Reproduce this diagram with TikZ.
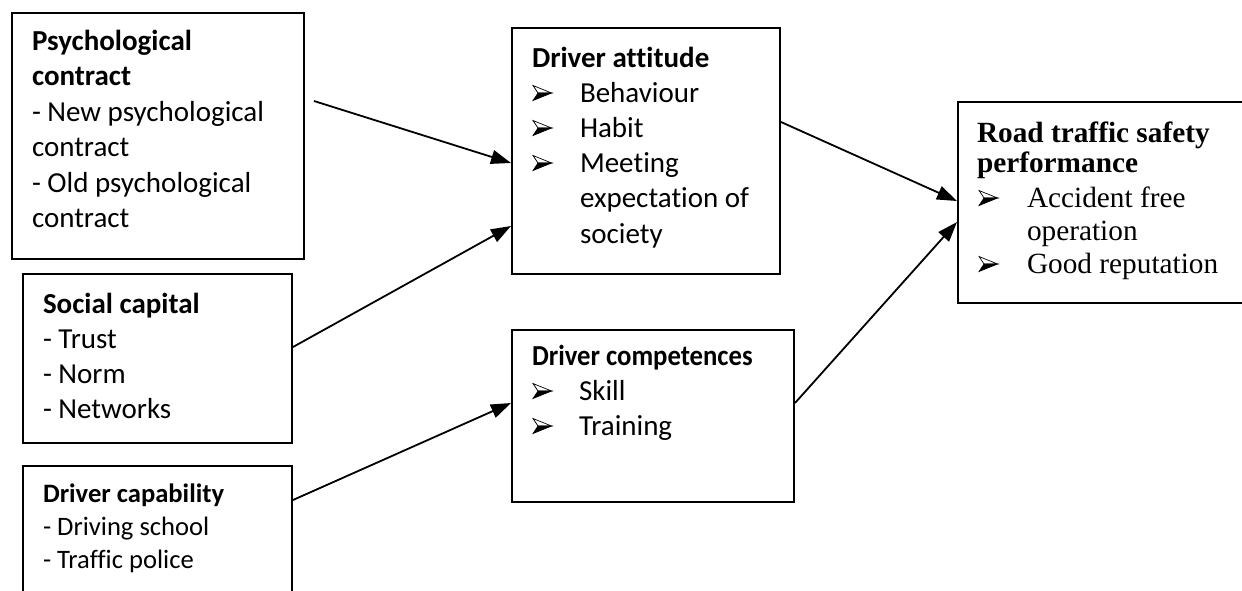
\documentclass[tikz,border=0pt]{standalone}
\usepackage{fontspec}
\usepackage{graphicx}
\setmainfont[Ligatures={NoCommon}]{Carlito}
\newfontfamily\timesf{Liberation Serif}
\usetikzlibrary{arrows.meta,calc}
\begin{document}
\begin{tikzpicture}[x=1pt,y=-1pt,
  box/.style={draw, line width=2pt, rectangle, inner sep=0pt, anchor=north west},
  txt/.style={anchor=base west, inner sep=0pt, outer sep=0pt},
  link/.style={line width=1.8pt, -{Triangle[length=20pt,width=14pt]}},
  arrowbullet/.pic={
    \filldraw[line width=0.7pt, line join=miter, fill=white] (0,-16.5) -- (18.5,-9) -- (5,-9) -- cycle;
    \filldraw[line width=0.7pt, line join=miter] (0,-1.5) -- (18.5,-9) -- (5,-9) -- cycle;
  }]
\useasboundingbox (0,0) rectangle (1242,590);
\clip (0,0) rectangle (1242,590);
% boxes
\node[box, minimum width=292pt, minimum height=246pt] (B1) at (11,12) {};
\node[box, minimum width=269pt, minimum height=169pt] (B2) at (22,273) {};
\node[box, minimum width=269pt, minimum height=140pt] (B3) at (22,465) {};
\node[box, minimum width=268pt, minimum height=246pt] (B4) at (511,27) {};
\node[box, minimum width=282pt, minimum height=172pt] (B5) at (511,329) {};
\node[box, minimum width=300pt, minimum height=201pt] (B6) at (957,101) {};
% texts
\node[txt] (T1) at (32,50) {\fontsize{29}{35.5}\selectfont\begin{tabular}[t]{@{}l@{}}
\textbf{Psychological}\\ \textbf{contract}\\ - New psychological\\ contract\\ - Old psychological\\ contract\end{tabular}};
\node[txt] (T2) at (43,313) {\fontsize{29}{35}\selectfont\begin{tabular}[t]{@{}l@{}}
\textbf{Social capital}\\ - Trust\\ - Norm\\ - Networks\end{tabular}};
\node[txt] (T3) at (43,502) {\fontsize{26.6}{33}\selectfont\begin{tabular}[t]{@{}l@{}}
\textbf{Driver capability}\\ - Driving school\\ - Traffic police\end{tabular}};
\node[txt] (T4) at (532,67) {\fontsize{29}{35.2}\selectfont\begin{tabular}[t]{@{}l@{}}
\textbf{Driver attitude}\\ \hspace*{48pt}Behaviour\\ \hspace*{48pt}Habit\\ \hspace*{48pt}Meeting\\ \hspace*{48pt}expectation of\\ \hspace*{48pt}society\end{tabular}};
\node[txt] (T5) at (532,365) {\fontsize{29}{35}\selectfont\begin{tabular}[t]{@{}l@{}}
\scalebox{0.92}[1]{\textbf{Driver competences}}\\ \hspace*{47pt}Skill\\ \hspace*{47pt}Training\end{tabular}};
\node[txt] (T6) at (977,142) {\timesf\fontsize{29.3}{33}\selectfont\begin{tabular}[t]{@{}l@{}}
\textbf{Road traffic safety}\\[-3pt] \textbf{performance}\\[2pt] \hspace*{50pt}Accident free\\ \hspace*{50pt}operation\\ \hspace*{50pt}Good reputation\end{tabular}};
% bullets
\pic at (533,102) {arrowbullet};
\pic at (533,137) {arrowbullet};
\pic at (533,172) {arrowbullet};
\pic at (533,400) {arrowbullet};
\pic at (533,435) {arrowbullet};
\pic at (979,207) {arrowbullet};
\pic at (979,273) {arrowbullet};
% connectors
\coordinate (S1) at (314,101);
\draw[link] (S1) -- ($(B4.north west)+(0,136)$);
\draw[link] ($(B2.north east)+(0,74)$) -- ($(B4.north west)+(0,199)$);
\draw[link] ($(B3.north east)+(0,35)$) -- ($(B5.north west)+(0,74)$);
\draw[link] ($(B4.north east)+(0,95)$) -- ($(B6.north west)+(0,100)$);
\draw[link] ($(B5.north east)+(0,74)$) -- ($(B6.north west)+(0,121)$);
\end{tikzpicture}
\end{document}
